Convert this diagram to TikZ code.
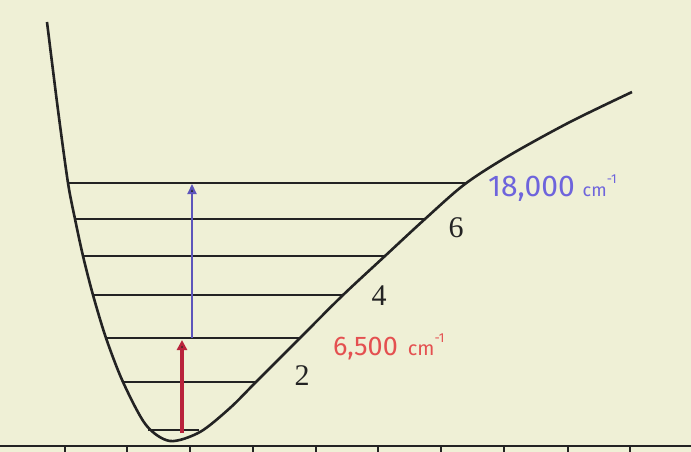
\documentclass[tikz,border=0pt]{standalone}
\usepackage{fontspec}
\setmainfont{Liberation Serif}
\newfontfamily\handfont{Fira Sans}
\usetikzlibrary{arrows.meta}
\definecolor{paper}{RGB}{239,240,214}
\definecolor{ink}{RGB}{35,35,35}
\definecolor{penblue}{RGB}{110,100,220}
\definecolor{penred}{RGB}{228,80,80}
\definecolor{arrowred}{RGB}{185,35,60}
\tikzset{
  curveline/.style={draw=ink, line width=2.6pt},
  levelline/.style={draw=ink, line width=1.8pt},
  axisline/.style={draw=ink, line width=1.8pt},
  tickline/.style={draw=ink, line width=1.2pt},
  redarrow/.style={draw=arrowred, line width=3.2pt, -{Triangle[length=10pt,width=10pt,fill=ink]}},
  bluearrow/.style={draw=penblue!85!black, line width=2.2pt, -{Triangle[length=10pt,width=9pt,fill=ink]}},
  vlabel/.style={font=\fontsize{30}{30}\selectfont, text=ink, inner sep=0pt},
  bluelabel/.style={font=\handfont\fontsize{30}{30}\selectfont, text=penblue, inner sep=0pt, anchor=west},
  redlabel/.style={font=\handfont\fontsize{27}{27}\selectfont, text=penred, inner sep=0pt, anchor=west}
}
\begin{document}
\begin{tikzpicture}[x=1pt,y=-1pt]
\fill[paper] (0,0) rectangle (691,452);
\useasboundingbox (0,0) rectangle (691,452);
% potential curve
\draw[curveline] plot[smooth, tension=0.5] coordinates {
  (47,22) (58,110) (68,183) (75,219) (83,256) (93,295) (106,338) (123,382) (146,425) (170,441)
  (200,432) (230,408) (255,383) (300,338) (342,296) (385,256) (425,219) (465,184)
  (510,155) (570,122) (632,92)};
% vibrational levels
\foreach \y/\xl/\xr/\n in {183/68/465/l6, 219/75/425/l5, 256/83/386/l4, 295/92/342/l3, 338/105/300/l2, 382/122/256/l1, 430/148/199/l0} {
  \coordinate (\n a) at (\xl,\y);
  \coordinate (\n b) at (\xr,\y);
  \draw[levelline] (\n a) -- (\n b);
}
% arrows
\coordinate (r0) at (182,433);
\coordinate (r1) at (182,340);
\coordinate (b0) at (192,338);
\coordinate (b1) at (192,184);
\draw[bluearrow] (b0) -- (b1);
\draw[redarrow] (r0) -- (r1);
% axis
\coordinate (ax0) at (0,446);
\coordinate (ax1) at (691,446);
\draw[axisline] (ax0) -- (ax1);
\foreach \x in {65,127,190,253,316,378,441,504,568,630} {
  \draw[tickline] (\x,446) -- (\x,452);
}
% labels
\node[vlabel] (n6) at (456,228) {6};
\node[vlabel] (n4) at (379,296) {4};
\node[vlabel] (n2) at (302,376) {2};
\node[bluelabel] (blab) at (488,188) {18,000 {\fontsize{18}{18}\selectfont cm}$^{\raisebox{4pt}{\fontsize{13}{13}\selectfont -1}}$};
\node[redlabel] (rlab) at (333,347) {6,500\hspace{10pt}{\fontsize{20}{20}\selectfont cm}$^{\raisebox{4pt}{\fontsize{13}{13}\selectfont -1}}$};
\end{tikzpicture}
\end{document}
